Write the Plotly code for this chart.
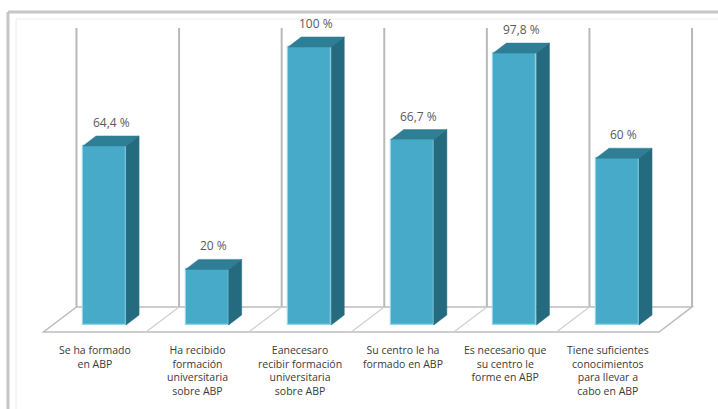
import plotly.graph_objects as go

# Survey results (% of respondents)
categories = [
    "Se ha formado<br>en ABP",
    "Ha recibido<br>formación<br>universitaria<br>sobre ABP",
    "Eanecesaro<br>recibir formación<br>universitaria<br>sobre ABP",
    "Su centro le ha<br>formado en ABP",
    "Es necesario que<br>su centro le<br>forme en ABP",
    "Tiene suficientes<br>conocimientos<br>para llevar a<br>cabo en ABP",
]
values = [64.4, 20, 100, 66.7, 97.8, 60]

# Pseudo-3D geometry (axis units)
BAR_W = 0.42          # front face width
BAR_DX, BAR_DY = 0.127, 3.6    # bar depth offset
WALL_DX, WALL_DY = 0.322, 9.0  # floor depth offset
WALL_X0 = -0.273      # back-wall line of the first category
FLOOR_BACK = 6.5
FLOOR_FRONT = FLOOR_BACK - WALL_DY
WALL_TOP = 106.8

FRONT = "#47aac8"
TOP = "#2e7f95"
SIDE = "#256b7f"
EDGE = "#8fd8ec"
GRID = "#b9b9b9"

n = len(values)
fig = go.Figure()
shapes = []

# floor plate
fx_back = [WALL_X0, WALL_X0 + n]
fx_front = [WALL_X0 - WALL_DX, WALL_X0 + n - WALL_DX]
shapes.append(dict(
    type="path", layer="below", xref="x", yref="y",
    path=(f"M{fx_front[0]},{FLOOR_FRONT} L{fx_front[1]},{FLOOR_FRONT} "
          f"L{fx_back[1]},{FLOOR_BACK} L{fx_back[0]},{FLOOR_BACK} Z"),
    fillcolor="white", line=dict(color="#bdbdbd", width=1.5)))
# floor dividers and back-wall lines
for k in range(n + 1):
    xb = WALL_X0 + k
    if 0 < k < n:
        shapes.append(dict(type="line", layer="below", xref="x", yref="y",
                           x0=xb, y0=FLOOR_BACK, x1=xb - WALL_DX, y1=FLOOR_FRONT,
                           line=dict(color="#cfcfcf", width=1.2)))
    shapes.append(dict(type="line", layer="below", xref="x", yref="y",
                       x0=xb, y0=FLOOR_BACK, x1=xb, y1=WALL_TOP,
                       line=dict(color=GRID, width=2)))

# outer chart frame (top and left edges)
shapes.append(dict(type="line", xref="paper", yref="paper",
                   x0=8 / 718, y0=1 - 12 / 409, x1=1, y1=1 - 12 / 409,
                   line=dict(color="#c6c6c6", width=3)))
shapes.append(dict(type="line", xref="paper", yref="paper",
                   x0=8 / 718, y0=1 - 12 / 409, x1=8 / 718, y1=0,
                   line=dict(color="#c6c6c6", width=3)))
shapes.append(dict(type="line", xref="paper", yref="paper",
                   x0=16 / 718, y0=1 - 19 / 409, x1=1, y1=1 - 19 / 409,
                   line=dict(color="#ececec", width=1)))
shapes.append(dict(type="line", xref="paper", yref="paper",
                   x0=16 / 718, y0=1 - 19 / 409, x1=16 / 718, y1=0,
                   line=dict(color="#ececec", width=1)))

# front faces of the bars
xs = list(range(n))
fig.add_trace(go.Bar(
    x=xs, y=values, width=BAR_W, base=0,
    marker=dict(color=FRONT, line=dict(color=EDGE, width=1.2)),
    hoverinfo="skip", showlegend=False))

# top and side faces
for k, v in enumerate(values):
    xl, xr = k - BAR_W / 2, k + BAR_W / 2
    fig.add_trace(go.Scatter(
        x=[xl, xr, xr + BAR_DX, xl + BAR_DX, xl],
        y=[v, v, v + BAR_DY, v + BAR_DY, v],
        fill="toself", fillcolor=TOP, mode="lines",
        line=dict(color=TOP, width=0.5), hoverinfo="skip", showlegend=False))
    fig.add_trace(go.Scatter(
        x=[xr, xr + BAR_DX, xr + BAR_DX, xr, xr],
        y=[0, BAR_DY, v + BAR_DY, v, 0],
        fill="toself", fillcolor=SIDE, mode="lines",
        line=dict(color=SIDE, width=0.5), hoverinfo="skip", showlegend=False))

annotations = []
for k, v in enumerate(values):
    label = f"{v:g}".replace(".", ",") + " %"
    annotations.append(dict(
        x=k + BAR_DX / 2, y=v + BAR_DY, xref="x", yref="y",
        text=label, showarrow=False, yanchor="bottom", yshift=3,
        font=dict(family="Open Sans", size=12, color="#5a5a5a")))
    annotations.append(dict(
        x=WALL_X0 - WALL_DX + k + 0.5, y=FLOOR_FRONT, xref="x", yref="y",
        text=categories[k], showarrow=False, yanchor="top", yshift=-9,
        font=dict(family="Open Sans", size=10.5, color="#3a3a3a")))

fig.update_layout(
    width=718, height=409,
    margin=dict(l=0, r=0, t=0, b=0),
    paper_bgcolor="white", plot_bgcolor="white",
    xaxis=dict(range=[-1.0185, 5.98], visible=False, fixedrange=True),
    yaxis=dict(range=[-30.2, 116.9], visible=False, fixedrange=True),
    shapes=shapes, annotations=annotations,
    bargap=0,
)

fig.write_html("out.html")
